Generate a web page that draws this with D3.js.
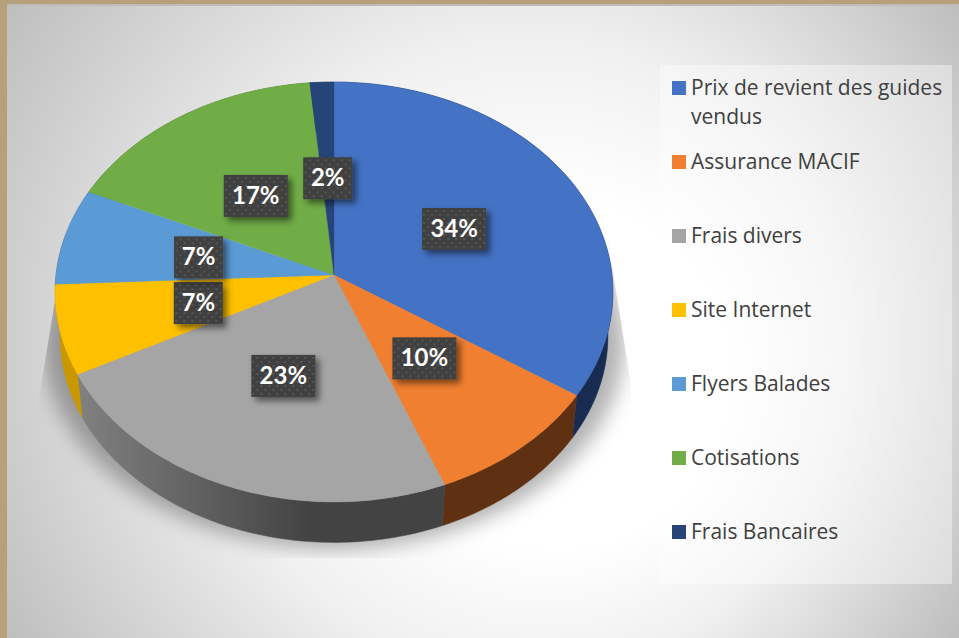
<!DOCTYPE html>
<html>
<head>
<meta charset="utf-8">
<script src="https://cdn.jsdelivr.net/npm/d3@7"></script>
<style>
html,body { margin:0; padding:0; background:#fff; }
svg { display:block; }
</style>
</head>
<body>
<svg id="chart" width="959" height="638"></svg>
<script>
const categories=['Prix de revient des guides|vendus','Assurance MACIF','Frais divers','Site Internet','Flyers Balades','Cotisations','Frais Bancaires'];
const shares=[34.3,9.7,23.4,6.9,7.45,16.75,1.5];
const topcolors=['#4472c4','#f17f30','#a5a5a5','#ffc000','#5b9bd5','#70ad47','#264478'];
const sidecolors=['#172c50','#5f3112','url(#graywall)','#c99700','#3a6a94','#4a7530','#172c50'];

const W=959, H=638;
const cx=334, apexy=275;      // where the slices meet on screen
const rx=278, ry=208.6, persp=0.081;
const depth=44.5, lowscale=0.982;

// circle -> screen, with the far side of the pie a bit squeezed
function project(t,f=1) {
   let w=1+persp*f*Math.cos(t);
   return [cx+rx*f*Math.sin(t)/w, apexy-ry*f*Math.cos(t)/w];
}
function projectlow(t) {
   let p=project(t);
   return [cx+(p[0]-cx)*lowscale, apexy+depth+(p[1]-apexy)*lowscale];
}
function samples(a0,a1) {
   let n=Math.max(4,Math.ceil((a1-a0)*60));
   return d3.range(n+1).map(i=>a0+(a1-a0)*i/n);
}

let svg=d3.select('#chart');
let defs=svg.append('defs');

// corners all reach the same grey, the light spot sits off centre
let bg=defs.append('radialGradient').attr('id','bggrad')
    .attr('gradientUnits','userSpaceOnUse')
    .attr('cx',480).attr('cy',320).attr('r',576)
    .attr('fx',590).attr('fy',400);
bg.append('stop').attr('offset','0%').attr('stop-color','#ffffff');
bg.append('stop').attr('offset','30%').attr('stop-color','#ffffff');
bg.append('stop').attr('offset','55%').attr('stop-color','#f0f0f0');
bg.append('stop').attr('offset','100%').attr('stop-color','#bdbdbd');

let wall=defs.append('linearGradient').attr('id','graywall')
    .attr('gradientUnits','userSpaceOnUse')
    .attr('x1',80).attr('x2',310).attr('y1',0).attr('y2',0);
wall.append('stop').attr('offset','0%').attr('stop-color','#808080');
wall.append('stop').attr('offset','100%').attr('stop-color','#434343');

defs.append('filter').attr('id','halo')
    .attr('x','-20%').attr('y','-20%').attr('width','140%').attr('height','140%')
    .append('feGaussianBlur').attr('stdDeviation',10);

let shadow=defs.append('filter').attr('id','boxshadow')
    .attr('x','-20%').attr('y','-20%').attr('width','160%').attr('height','160%');
shadow.append('feDropShadow').attr('dx',4).attr('dy',4).attr('stdDeviation',3)
    .attr('flood-color','#000').attr('flood-opacity',0.5);

let dots=defs.append('pattern').attr('id','dotted')
    .attr('patternUnits','userSpaceOnUse').attr('width',8).attr('height',8);
dots.append('rect').attr('width',8).attr('height',8).attr('fill','#404040');
dots.append('rect').attr('x',1).attr('y',1).attr('width',2).attr('height',2).attr('fill','#565656');
dots.append('rect').attr('x',5).attr('y',5).attr('width',2).attr('height',2).attr('fill','#565656');

// the shadow box is slanted like the pie, not a plain rectangle
defs.append('clipPath').attr('id','haloclip')
    .append('polygon').attr('points','60,270 37,410 37,558 631,558 631,385 608,240');

// page background and frame
svg.append('rect').attr('width',W).attr('height',H).attr('fill','url(#bggrad)');
svg.append('rect').attr('width',W).attr('height',4).attr('fill','#b5a27b');
svg.append('rect').attr('y',4).attr('width',W).attr('height',2).attr('fill','#bdbdb6');
svg.append('rect').attr('width',7).attr('height',H).attr('fill','#b5a27b');

// legend panel
svg.append('rect').attr('x',660).attr('y',65).attr('width',292).attr('height',519)
    .attr('fill','#fff').attr('fill-opacity',0.4);

let pie=d3.pie().sort(null).value(d=>d);
let arcs=pie(shares);
let line=d3.line();

// soft shadow under the pie, cut off by its own box
svg.append('g').attr('clip-path','url(#haloclip)')
   .append('path')
   .attr('d',line(samples(0,2*Math.PI).map(t=>{
        let p=projectlow(t);
        return [cx+(p[0]-cx)*1.06,p[1]+6];
   }))+'Z')
   .attr('fill','#000').attr('fill-opacity',0.3)
   .attr('filter','url(#halo)');

// walls first, the top faces cover whatever is not visible
svg.append('g').selectAll('path').data(arcs).join('path')
   .attr('d',d=>{
        let ts=samples(d.startAngle,d.endAngle);
        return line(ts.map(t=>project(t)).concat(ts.slice().reverse().map(projectlow)))+'Z';
   })
   .attr('fill',(d,i)=>sidecolors[i])
   .attr('stroke',(d,i)=>sidecolors[i]).attr('stroke-width',0.5);

svg.append('g').selectAll('path').data(arcs).join('path')
   .attr('d',d=>line([[cx,apexy]].concat(samples(d.startAngle,d.endAngle).map(t=>project(t))))+'Z')
   .attr('fill',(d,i)=>topcolors[i])
   .attr('stroke',(d,i)=>topcolors[i]).attr('stroke-width',0.3);

// percent labels sit about halfway along the middle radius
let labels=svg.append('g').selectAll('g').data(arcs).join('g')
   .attr('transform',d=>{
        let mid=(d.startAngle+d.endAngle)/2;
        return 'translate('+project(mid,0.5)[0]+','+(project(mid,0.49)[1]+1.5)+')';
   });
labels.append('rect')
   .attr('x',d=>-(Math.round(d.value)>=10 ? 32 : 24.5))
   .attr('y',-21)
   .attr('width',d=>Math.round(d.value)>=10 ? 64 : 49)
   .attr('height',42)
   .attr('fill','url(#dotted)')
   .attr('filter','url(#boxshadow)');
labels.append('text')
   .attr('text-anchor','middle').attr('y',8)
   .attr('font-family','Lato').attr('font-weight',700).attr('font-size',24)
   .attr('fill','#fff')
   .text(d=>Math.round(d.value)+'%');

// legend
const legendy=d3.scalePoint().domain(categories).range([88,532]);
let legend=svg.append('g').selectAll('g').data(categories).join('g')
   .attr('transform',d=>'translate(672,'+legendy(d)+')');
legend.append('rect').attr('y',-7).attr('width',14).attr('height',14)
   .attr('fill',(d,i)=>topcolors[i]);
legend.each(function(d) {
   d.split('|').forEach((s,j)=>{
      d3.select(this).append('text')
        .attr('x',19).attr('y',7+j*29)
        .attr('font-family','Open Sans').attr('font-size',21)
        .attr('fill','#404040')
        .text(s);
   });
});
</script>
</body>
</html>
